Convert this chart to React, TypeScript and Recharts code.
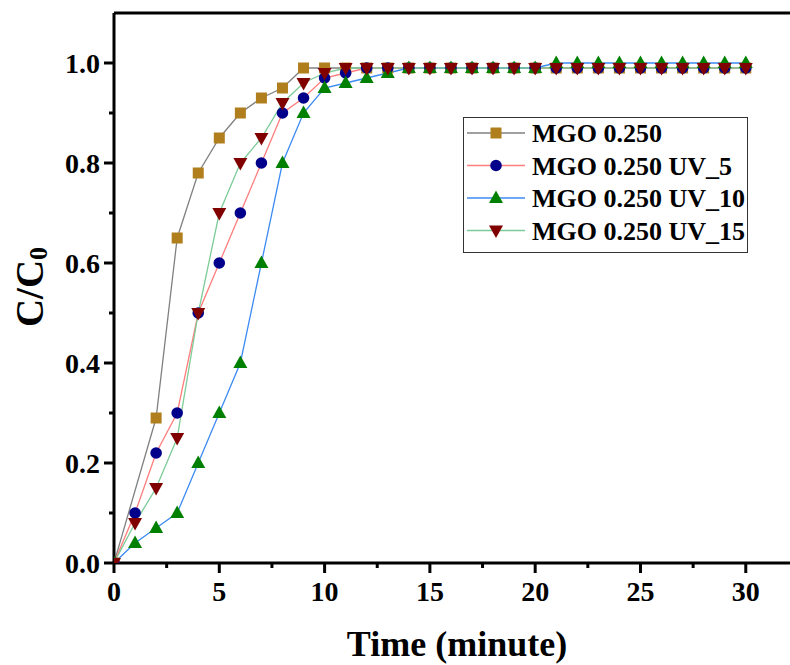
import React from 'react';
import { LineChart, Line, XAxis, YAxis, ReferenceLine } from 'recharts';

const minutes = [0, 1, 2, 3, 4, 5, 6, 7, 8, 9, 10, 11, 12, 13, 14, 15, 16, 17, 18, 19, 20, 21, 22, 23, 24, 25, 26, 27, 28, 29, 30];

const mgo = [0, null, 0.29, 0.65, 0.78, 0.85, 0.9, 0.93, 0.95, 0.99, 0.99, 0.99, 0.99, 0.99, 0.99, 0.99, 0.99, 0.99, 0.99, 0.99, 0.99, 0.99, 0.99, 0.99, 0.99, 0.99, 0.99, 0.99, 0.99, 0.99, 0.99];
const uv5 = [0, 0.1, 0.22, 0.3, 0.5, 0.6, 0.7, 0.8, 0.9, 0.93, 0.97, 0.98, 0.99, 0.99, 0.99, 0.99, 0.99, 0.99, 0.99, 0.99, 0.99, 0.99, 0.99, 0.99, 0.99, 0.99, 0.99, 0.99, 0.99, 0.99, 0.99];
const uv10 = [0, 0.04, 0.07, 0.1, 0.2, 0.3, 0.4, 0.6, 0.8, 0.9, 0.95, 0.96, 0.97, 0.98, 0.99, 0.99, 0.99, 0.99, 0.99, 0.99, 0.99, 1.0, 1.0, 1.0, 1.0, 1.0, 1.0, 1.0, 1.0, 1.0, 1.0];
const uv15 = [0, 0.08, 0.15, 0.25, 0.5, 0.7, 0.8, 0.85, 0.92, 0.96, 0.98, 0.99, 0.99, 0.99, 0.99, 0.99, 0.99, 0.99, 0.99, 0.99, 0.99, 0.99, 0.99, 0.99, 0.99, 0.99, 0.99, 0.99, 0.99, 0.99, 0.99];

const xTicks = [0, 2.5, 5, 7.5, 10, 12.5, 15, 17.5, 20, 22.5, 25, 27.5, 30];
const yTicks = [0, 0.1, 0.2, 0.3, 0.4, 0.5, 0.6, 0.7, 0.8, 0.9, 1.0];

const data = minutes.map((t, i) => ({ t, mgo: mgo[i], uv5: uv5[i], uv10: uv10[i], uv15: uv15[i] }));

const FONT = '"Liberation Serif", "Times New Roman", serif';

type Shape = 'square' | 'circle' | 'up' | 'down';

const series: { key: string; name: string; line: string; marker: string; shape: Shape }[] = [
  { key: 'mgo', name: 'MGO 0.250', line: '#808080', marker: '#b07e1c', shape: 'square' },
  { key: 'uv5', name: 'MGO 0.250 UV_5', line: '#ff7d7d', marker: '#00008b', shape: 'circle' },
  { key: 'uv10', name: 'MGO 0.250 UV_10', line: '#3d8bf2', marker: '#008000', shape: 'up' },
  { key: 'uv15', name: 'MGO 0.250 UV_15', line: '#7ccb98', marker: '#800000', shape: 'down' },
];

function marker(shape: Shape, cx: number, cy: number, fill: string, key?: any) {
  if (shape === 'square') return <rect key={key} x={cx - 5.5} y={cy - 5.5} width={11} height={11} fill={fill} />;
  if (shape === 'circle') return <circle key={key} cx={cx} cy={cy} r={5.8} fill={fill} />;
  if (shape === 'up')
    return <polygon key={key} points={`${cx},${cy - 7.5} ${cx + 7},${cy + 5} ${cx - 7},${cy + 5}`} fill={fill} />;
  return <polygon key={key} points={`${cx - 7},${cy - 5} ${cx + 7},${cy - 5} ${cx},${cy + 7.5}`} fill={fill} />;
}

const XTick = (props: any) => {
  const { x, y, payload } = props;
  const major = payload.value % 5 === 0;
  return (
    <g>
      <line x1={x} x2={x} y1={y} y2={y + (major ? 10 : 5)} stroke="#000" strokeWidth={3} />
      {major && (
        <text x={x} y={y + 38} textAnchor="middle" fontFamily={FONT} fontWeight="bold" fontSize={28} fill="#000">
          {payload.value}
        </text>
      )}
    </g>
  );
};

const YTick = (props: any) => {
  const { x, y, payload } = props;
  const major = Math.round(payload.value * 10) % 2 === 0;
  return (
    <g>
      <line x1={x} x2={x - (major ? 10 : 5)} y1={y} y2={y} stroke="#000" strokeWidth={3} />
      {major && (
        <text x={x - 14} y={y + 10} textAnchor="end" fontFamily={FONT} fontWeight="bold" fontSize={28} fill="#000">
          {payload.value.toFixed(1)}
        </text>
      )}
    </g>
  );
};

const LegendBox = () => (
  <div
    style={{
      position: 'absolute',
      left: 463,
      top: 117,
      width: 285,
      height: 136,
      border: '1.5px solid #333',
      boxSizing: 'border-box',
      background: '#fff',
    }}
  >
    <svg width={282} height={133} style={{ display: 'block' }}>
      {series.map((s, i) => {
        const cy = 15 + i * 32.5;
        return (
          <g key={s.key}>
            <line x1={3} x2={61} y1={cy} y2={cy} stroke={s.line} strokeWidth={1.5} />
            {marker(s.shape, 32, cy, s.marker)}
            <text x={68} y={cy + 9} fontFamily={FONT} fontWeight="bold" fontSize={26} fill="#000">
              {s.name}
            </text>
          </g>
        );
      })}
    </svg>
  </div>
);

export default function App() {
  return (
    <div style={{ position: 'relative', width: 790, height: 665, background: '#fff', overflow: 'hidden' }}>
      <style>{`body{margin:0}`}</style>
      <LineChart width={790} height={665} data={data} margin={{ top: 13, right: 0, left: 0, bottom: 0 }}>
        <XAxis
          dataKey="t"
          type="number"
          domain={[0, 32.1]}
          allowDataOverflow
          ticks={xTicks}
          interval={0}
          height={102}
          tickSize={0}
          tickMargin={0}
          tickLine={false}
          tick={<XTick />}
          axisLine={{ stroke: '#000', strokeWidth: 3 }}
        />
        <YAxis
          type="number"
          domain={[0, 1.1]}
          allowDataOverflow
          ticks={yTicks}
          interval={0}
          width={114}
          tickSize={0}
          tickMargin={0}
          tickLine={false}
          tick={<YTick />}
          axisLine={{ stroke: '#000', strokeWidth: 3 }}
        />
        <ReferenceLine y={1.1} stroke="#000" strokeWidth={3} />
        {series.map((s) => (
          <Line
            key={s.key}
            dataKey={s.key}
            name={s.name}
            type="linear"
            stroke={s.line}
            strokeWidth={1.3}
            connectNulls
            isAnimationActive={false}
            dot={(p: any) =>
              p.cy == null || p.value == null ? <g key={p.key ?? p.index} /> : marker(s.shape, p.cx, p.cy, s.marker, p.key ?? p.index)
            }
            activeDot={false}
          />
        ))}
      </LineChart>
      <LegendBox />
      <div
        style={{
          position: 'absolute',
          left: 457,
          top: 644,
          transform: 'translate(-50%, -50%)',
          fontFamily: FONT,
          fontWeight: 'bold',
          fontSize: 36,
          whiteSpace: 'nowrap',
          lineHeight: 1,
        }}
      >
        Time (minute)
      </div>
      <div
        style={{
          position: 'absolute',
          left: 31,
          top: 287,
          transform: 'translate(-50%, -50%) rotate(-90deg)',
          fontFamily: FONT,
          fontWeight: 'bold',
          fontSize: 39,
          whiteSpace: 'nowrap',
          lineHeight: 1,
        }}
      >
        C/C<sub style={{ fontSize: 26, verticalAlign: '-0.15em' }}>0</sub>
      </div>
    </div>
  );
}
